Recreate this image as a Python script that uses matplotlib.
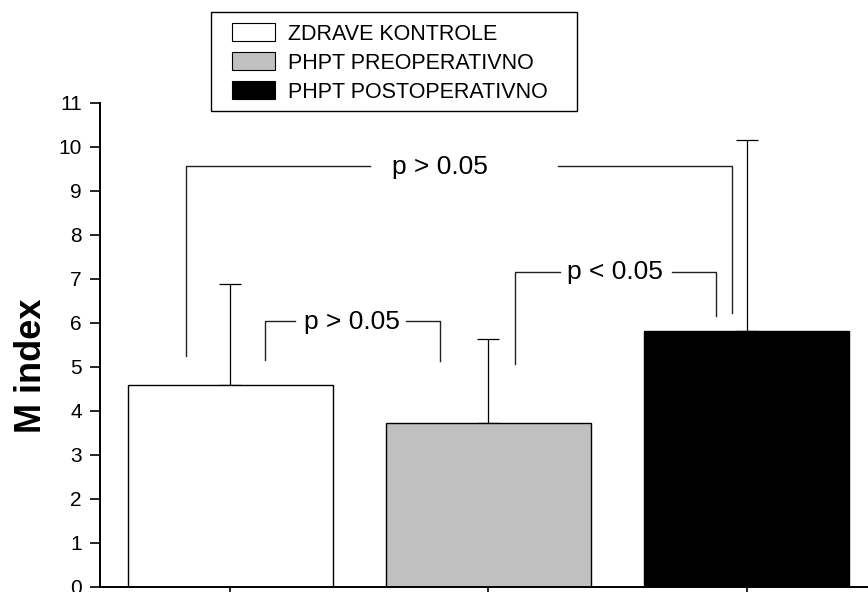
import matplotlib.pyplot as plt
from matplotlib.patches import Patch, Rectangle

groups = ['ZDRAVE KONTROLE', 'PHPT PREOPERATIVNO', 'PHPT POSTOPERATIVNO']
means = [4.6, 3.73, 5.81]
sd = [2.28, 1.91, 4.36]
colors = ['white', '#c0c0c0', 'black']

# significance brackets: left x, left bottom, top y, right x, right bottom, gap, text, text x
brackets = [
    (-0.170, 5.26, 9.57, 1.942, 6.22, (0.542, 1.269), 'p > 0.05', 0.812),
    (0.134, 5.16, 6.04, 0.812, 5.14, (0.251, 0.681), 'p > 0.05', 0.472),
    (1.104, 5.06, 7.17, 1.880, 6.17, (1.277, 1.710), 'p < 0.05', 1.489),
]

plt.rcParams['font.family'] = 'Liberation Sans'

fig = plt.figure(figsize=(8.68, 5.92), dpi=100)
ax = fig.add_axes([100 / 868, 5 / 592, 777 / 868, 484 / 592])

x = list(range(len(means)))
ax.errorbar(x, means, yerr=[[0] * len(sd), sd], fmt='none', ecolor='black',
            elinewidth=0.9, capsize=8, capthick=0.9, zorder=1)
ax.bar(x, means, width=0.793, color=colors, edgecolor='black', linewidth=1,
       zorder=2)

for xl, yl, yt, xr, yr, gap, txt, tx in brackets:
    kw = dict(color='#222222', lw=1)
    ax.plot([xl, xl, gap[0]], [yl, yt, yt], **kw)
    ax.plot([gap[1], xr, xr], [yt, yt, yr], **kw)
    ax.text(tx, yt - 0.18, txt, ha='center', va='baseline', fontsize=19)

ax.set_xlim(-0.503, 2.503)
ax.set_ylim(0, 11)
ax.set_yticks(range(0, 12))
ax.set_xticks(x)
ax.set_xticklabels([])
ax.tick_params(axis='y', labelsize=15, length=7, width=1.2, pad=6)
ax.tick_params(axis='x', length=7, width=1.2)
for s in ['top', 'right']:
    ax.spines[s].set_visible(False)
for s in ['left', 'bottom']:
    ax.spines[s].set_linewidth(1.4)

ax.set_ylabel('M index', fontsize=26, fontweight='bold')
ax.yaxis.set_label_coords(-0.066, 0.457)

handles = [Patch(facecolor=c, edgecolor='black', linewidth=0.8) for c in colors]
fig.legend(handles, groups, loc='upper left', bbox_to_anchor=(232 / 868, 1 - 23 / 592),
           frameon=False, fontsize=15.5, handlelength=2.0, handleheight=0.93,
           handletextpad=0.6, labelspacing=0.35, borderpad=0, borderaxespad=0)
fig.patches.append(Rectangle((211 / 868, 1 - 111 / 592), 366 / 868, 99 / 592,
                             transform=fig.transFigure, facecolor='none',
                             edgecolor='black', linewidth=1))

fig.savefig('out.png', dpi=100)
